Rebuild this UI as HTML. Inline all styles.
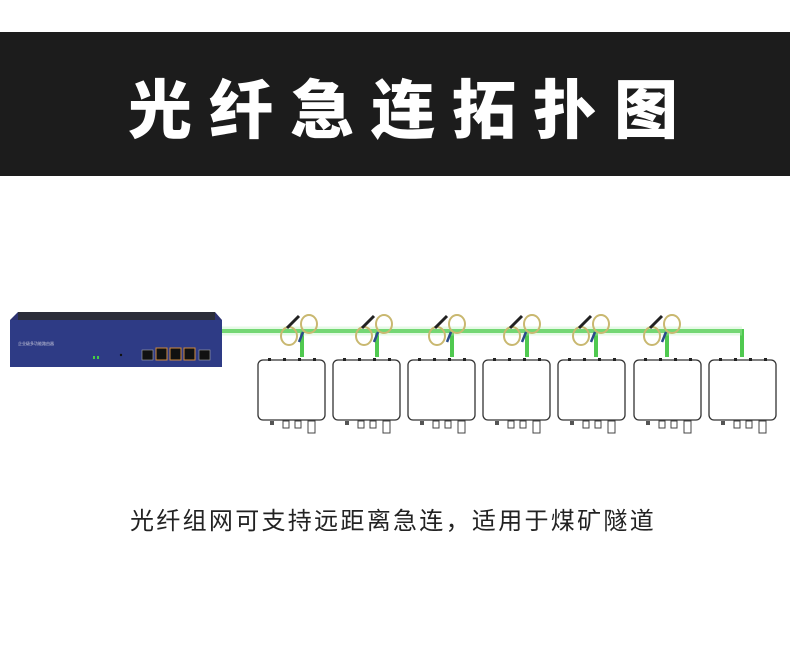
<!DOCTYPE html>
<html><head><meta charset="utf-8"><style>
html,body{margin:0;padding:0;background:#fff;width:790px;height:665px;overflow:hidden;position:relative;font-family:"Liberation Sans","Noto Sans CJK SC",sans-serif}
.band{position:absolute;left:0;top:32px;width:790px;height:144px;background:#1c1c1c}
.title{position:absolute;left:128px;top:66px;color:#fff;font-size:64px;font-weight:900;letter-spacing:17px;line-height:80px;font-family:"Noto Sans CJK SC",sans-serif;white-space:nowrap}
.cap{position:absolute;left:130px;top:504px;font-size:24px;letter-spacing:2.3px;color:#222;line-height:30px;font-family:"Noto Sans CJK SC",sans-serif;white-space:nowrap}
svg{position:absolute;left:0;top:0}
</style></head><body>
<div class="band"></div>
<div class="title">光纤急连拓扑图</div>
<svg width="790" height="665">
<defs>
<g id="unit">
<rect x="0" y="0" width="67" height="60" rx="5" fill="#fff" stroke="#333" stroke-width="1.3"/>
<rect x="10" y="-2" width="3" height="3" fill="#222"/><rect x="25" y="-2" width="3" height="3" fill="#222"/><rect x="40" y="-2" width="3" height="3" fill="#222"/><rect x="55" y="-2" width="3" height="3" fill="#222"/>
<rect x="12" y="61" width="4" height="4" fill="#555"/>
<rect x="25" y="61" width="6" height="7" fill="#fff" stroke="#444"/>
<rect x="37" y="61" width="6" height="7" fill="#fff" stroke="#444"/>
<rect x="50" y="61" width="7" height="12" fill="#fff" stroke="#444"/>
</g>
<g id="coil" fill="none" stroke="#c9b870" stroke-width="2">
<ellipse cx="0" cy="0" rx="8" ry="9"/>
<ellipse cx="20" cy="-12" rx="8" ry="9"/>
<line x1="-2" y1="-8" x2="10" y2="-20" stroke="#222" stroke-width="3"/>
<line x1="14" y1="-4" x2="10" y2="6" stroke="#2a4a8a" stroke-width="2.5"/>
</g>
</defs>
<path d="M18 312 L215 312 L222 320 L222 367 L10 367 L10 320 Z" fill="#2d3270"/>
<rect x="18" y="312" width="197" height="8" fill="#2b2d3a"/>
<rect x="10" y="320" width="212" height="47" fill="#2e3b85"/>
<text x="18" y="345" font-size="4" fill="#ccd">企业级多功能路由器</text>
<rect x="142" y="350" width="11" height="10" fill="#111" stroke="#aaa" stroke-width="0.6"/>
<rect x="156" y="348" width="11" height="12" fill="#111" stroke="#d08a40"/>
<rect x="170" y="348" width="11" height="12" fill="#111" stroke="#d08a40"/>
<rect x="184" y="348" width="11" height="12" fill="#111" stroke="#d08a40"/>
<rect x="199" y="350" width="11" height="10" fill="#111" stroke="#aaa" stroke-width="0.6"/>
<rect x="93" y="356" width="2" height="3" fill="#4c4"/><rect x="97" y="356" width="2" height="3" fill="#4c4"/>
<circle cx="121" cy="355" r="1.2" fill="#111"/>
<g stroke="#3ec43e" stroke-width="4" fill="none" opacity="0.9">
<polyline points="222,331 742,331 742,357"/>
<line x1="302" y1="331" x2="302" y2="357"/><line x1="377" y1="331" x2="377" y2="357"/>
<line x1="452" y1="331" x2="452" y2="357"/><line x1="527" y1="331" x2="527" y2="357"/>
<line x1="596" y1="331" x2="596" y2="357"/><line x1="667" y1="331" x2="667" y2="357"/>
</g>
<g stroke="#b8f0b8" stroke-width="9" fill="none" opacity="0.35"><line x1="222" y1="331" x2="742" y2="331"/></g>
<use href="#unit" x="258" y="360"/><use href="#unit" x="333" y="360"/><use href="#unit" x="408" y="360"/>
<use href="#unit" x="483" y="360"/><use href="#unit" x="558" y="360"/><use href="#unit" x="634" y="360"/><use href="#unit" x="709" y="360"/>
<use href="#coil" x="289" y="336"/><use href="#coil" x="364" y="336"/><use href="#coil" x="437" y="336"/>
<use href="#coil" x="512" y="336"/><use href="#coil" x="581" y="336"/><use href="#coil" x="652" y="336"/>
</svg>
<div class="cap">光纤组网可支持远距离急连，适用于煤矿隧道</div>
</body></html>
